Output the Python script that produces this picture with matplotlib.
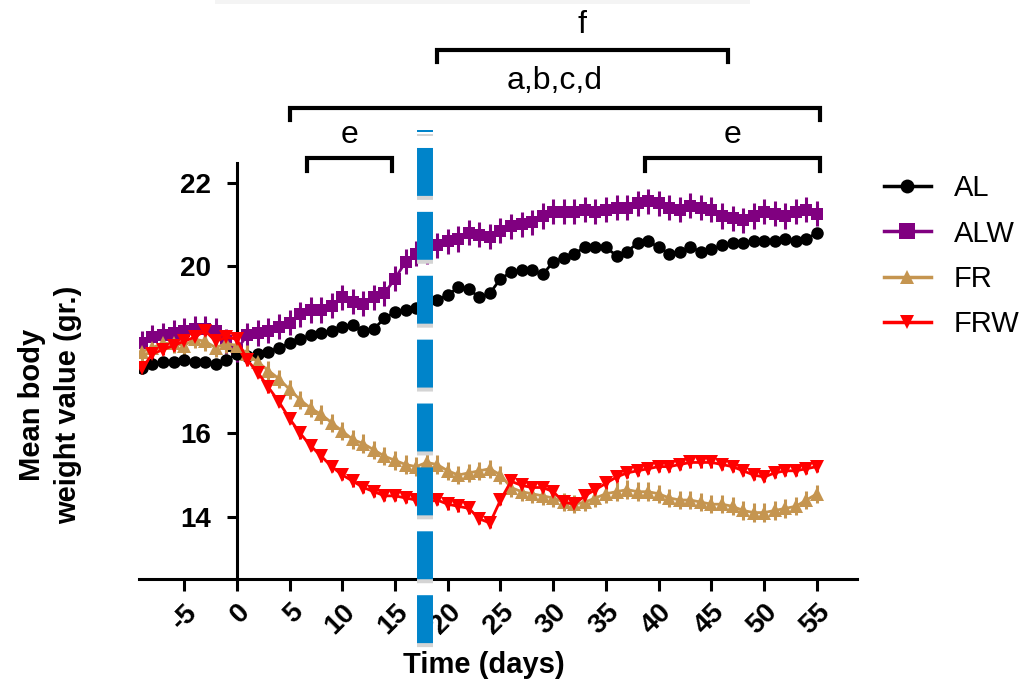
import matplotlib
matplotlib.use("Agg")
import matplotlib.pyplot as plt
import matplotlib.transforms as mtransforms
from matplotlib.lines import Line2D
from matplotlib.patches import Rectangle

plt.rcParams['font.family'] = ['Liberation Sans', 'DejaVu Sans']

# days -9 .. 55
days = list(range(-9, 56))

al = [17.55, 17.65, 17.7, 17.7, 17.75, 17.7, 17.7, 17.65, 17.75, 17.9,
      17.85, 17.9, 17.95, 18.05, 18.15, 18.25, 18.35, 18.4, 18.45, 18.55,
      18.6, 18.45, 18.5, 18.75, 18.9, 18.95, 19.0, 19.15, 19.2, 19.3,
      19.5, 19.45, 19.25, 19.35, 19.7, 19.85, 19.9, 19.9, 19.8, 20.1,
      20.2, 20.3, 20.45, 20.45, 20.45, 20.25, 20.35, 20.55, 20.6, 20.45,
      20.3, 20.35, 20.45, 20.35, 20.4, 20.5, 20.55, 20.55, 20.6, 20.6,
      20.6, 20.65, 20.6, 20.65, 20.8]
alw = [18.15, 18.3, 18.35, 18.4, 18.45, 18.5, 18.5, 18.45, 18.2, 18.0,
       18.35, 18.4, 18.45, 18.55, 18.65, 18.85, 18.95, 18.95, 19.05, 19.25,
       19.15, 19.1, 19.25, 19.35, 19.7, 20.1, 20.3, 20.35, 20.5, 20.6,
       20.65, 20.8, 20.75, 20.7, 20.85, 20.95, 21.0, 21.05, 21.2, 21.3,
       21.3, 21.3, 21.35, 21.3, 21.35, 21.4, 21.4, 21.5, 21.55, 21.5,
       21.4, 21.35, 21.45, 21.4, 21.35, 21.2, 21.15, 21.1, 21.2, 21.3,
       21.25, 21.2, 21.3, 21.35, 21.25]
fr = [17.95, 18.05, 18.15, 18.15, 18.1, 18.25, 18.2, 18.05, 18.15, 18.1,
      17.9, 17.7, 17.5, 17.3, 17.05, 16.8, 16.6, 16.45, 16.25, 16.05,
      15.85, 15.75, 15.6, 15.45, 15.35, 15.25, 15.2, 15.3, 15.25, 15.1,
      15.0, 15.05, 15.1, 15.15, 15.0, 14.7, 14.6, 14.55, 14.5, 14.45,
      14.35, 14.3, 14.35, 14.45, 14.55, 14.6, 14.65, 14.6, 14.6, 14.55,
      14.45, 14.4, 14.4, 14.35, 14.3, 14.3, 14.25, 14.15, 14.1, 14.1,
      14.15, 14.2, 14.25, 14.4, 14.55]
frw = [17.55, 17.9, 18.0, 18.1, 18.2, 18.3, 18.45, 18.2, 18.3, 18.25,
       17.75, 17.45, 17.1, 16.75, 16.35, 16.0, 15.7, 15.45, 15.2, 15.0,
       14.85, 14.7, 14.6, 14.5, 14.5, 14.45, 14.4, 14.35, 14.4, 14.3,
       14.25, 14.2, 13.95, 13.85, 14.4, 14.85, 14.75, 14.7, 14.7, 14.6,
       14.35, 14.3, 14.5, 14.65, 14.8, 14.95, 15.05, 15.1, 15.15, 15.2,
       15.2, 15.25, 15.3, 15.3, 15.3, 15.25, 15.2, 15.1, 15.0, 14.95,
       15.05, 15.1, 15.1, 15.15, 15.2]

# approximate SEM per group
sem = {'AL': 0.08, 'ALW': 0.3, 'FR': 0.22, 'FRW': 0.13}

groups = ['AL', 'ALW', 'FR', 'FRW']
colors = {'AL': 'black', 'ALW': '#800080', 'FR': '#C59550', 'FRW': '#FF0000'}
markers = {'AL': 'o', 'ALW': 's', 'FR': '^', 'FRW': 'v'}
msizes = {'AL': 9, 'ALW': 9, 'FR': 10.5, 'FRW': 10.5}
series = {'AL': al, 'ALW': alw, 'FR': fr, 'FRW': frw}

xticks = [-5, 0, 5, 10, 15, 20, 25, 30, 35, 40, 45, 50, 55]
yticks = [14, 16, 18, 20, 22]
ytick_labels = ['14', '16', '', '20', '22']

fig = plt.figure(figsize=(10.36, 6.9), dpi=100)
ax = fig.add_axes([0.1342, 0.1609, 0.8272 - 0.1342, 0.7638 - 0.1609])

# draw ALW first so the others sit on top
for g in ['ALW', 'AL', 'FR', 'FRW']:
    ax.errorbar(days, series[g], yerr=sem[g], color=colors[g],
                marker=markers[g], ms=msizes[g], mew=0, lw=2,
                elinewidth=2.2, capsize=5, capthick=2.2, zorder=3)

ax.set_xlim(-9.27, 58.8)
ax.set_ylim(12.51, 22.47)

for s in ['top', 'right']:
    ax.spines[s].set_visible(False)
ax.spines['left'].set_position(('data', 0))
ax.spines['left'].set_linewidth(2.2)
ax.spines['bottom'].set_linewidth(2.2)

ax.set_xticks(xticks)
ax.set_xticklabels([str(t) for t in xticks], rotation=45, ha='right',
                   va='top', rotation_mode='anchor', fontweight='bold',
                   fontsize=20)
ax.set_yticks(yticks)
ax.set_yticklabels(ytick_labels, fontweight='bold', fontsize=20)
ax.tick_params(axis='x', direction='out', length=8.5, width=2.2, pad=6)
ax.tick_params(axis='y', direction='out', length=7.5, width=2.2, pad=11)

# significance brackets
brackets = [
    (18.98, 46.56, 25.18, 'f', 25.78),
    (5.04, 55.3, 23.79, 'a,b,c,d', 24.44),
    (6.65, 14.7, 22.58, 'e', 23.14),
    (38.7, 55.3, 22.58, 'e', 23.14),
]
for x0, x1, y, label, ty in brackets:
    ax.plot([x0, x0, x1, x1], [y - 0.3, y, y, y - 0.3], color='black',
            lw=3, clip_on=False, solid_joinstyle='miter', zorder=4)
    ax.text((x0 + x1) / 2, ty, label, ha='center', va='center',
            fontsize=23, clip_on=False)

# blue dashed marker line
trans = mtransforms.blended_transform_factory(ax.transData, fig.transFigure)
shadow = mtransforms.offset_copy(trans, fig=fig, y=-4, units='dots')
dash_x = 17.8
y_top = 1 - 130 / 690
y_bot = 1 - 644 / 690
fig.add_artist(Line2D([dash_x, dash_x], [y_top, y_bot], transform=shadow,
                      color='#d4d4d4', lw=11.5, ls=(2.875, (3, 1)),
                      zorder=9))
fig.add_artist(Line2D([dash_x, dash_x], [y_top, y_bot], transform=trans,
                      color='#0084CA', lw=11.5, ls=(2.875, (3, 1)),
                      zorder=10))

# faint shadow at the top edge
fig.add_artist(Rectangle((215 / 1036, 1 - 4 / 690), 535 / 1036, 4 / 690,
                         transform=fig.transFigure, facecolor='#f4f4f4',
                         edgecolor='none'))

# legend
handles = [Line2D([], [], color=colors[g], marker=markers[g], lw=2.5,
                  ms=11 if g == 'ALW' else 10, mew=0) for g in groups]
fig.legend(handles, groups, loc='upper left',
           bbox_to_anchor=(884 / 1036, 1 - 174 / 690), frameon=False,
           fontsize=21, handlelength=1.6, handletextpad=0.8,
           labelspacing=0.6, borderpad=0, borderaxespad=0)

fig.text(50 / 1036, 1 - 405 / 690, 'Mean body\nweight value (gr.)',
         rotation=90, ha='center', va='center', multialignment='center',
         fontsize=21, fontweight='bold', linespacing=1.35)
fig.text(484 / 1036, 1 - 665 / 690, 'Time (days)', ha='center',
         va='center', fontsize=21, fontweight='bold')

fig.savefig('out.png', dpi=100)
